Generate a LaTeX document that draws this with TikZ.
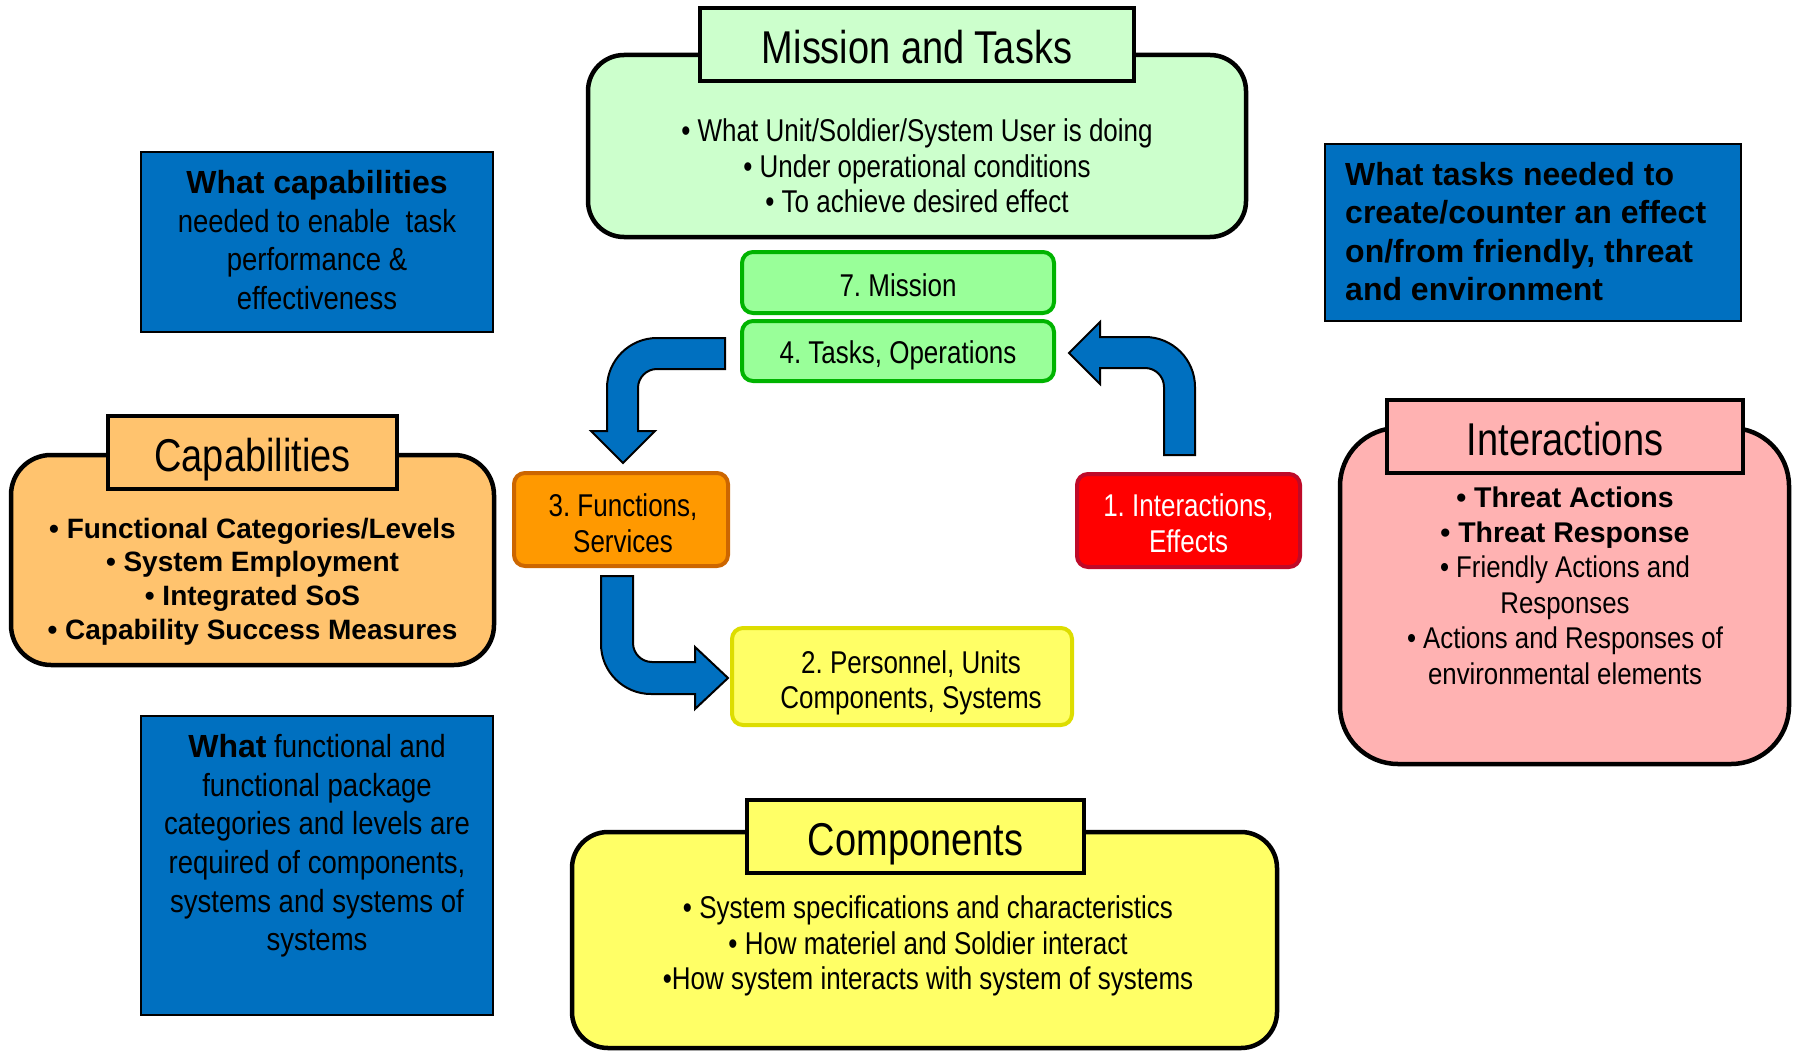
\documentclass[tikz,border=0pt]{standalone}
\usepackage{fontspec}
\setmainfont{Liberation Sans}
\newfontfamily\cond[FakeStretch=0.825]{Liberation Sans}
\newfontfamily\narrowf[FakeStretch=0.86]{Liberation Sans}
\newfontfamily\wide{Liberation Sans}
\definecolor{mgreen}{RGB}{204,255,204}
\definecolor{sgreen}{RGB}{153,255,153}
\definecolor{sgreenb}{RGB}{0,180,0}
\definecolor{forange}{RGB}{255,153,0}
\definecolor{forangeb}{RGB}{204,102,0}
\definecolor{ired}{RGB}{255,0,0}
\definecolor{iredb}{RGB}{190,10,40}
\definecolor{pyellow}{RGB}{255,255,102}
\definecolor{pyellowb}{RGB}{221,221,0}
\definecolor{corange}{RGB}{255,195,110}
\definecolor{ipink}{RGB}{255,178,178}
\definecolor{cblue}{RGB}{0,112,192}
\begin{document}
\frenchspacing
\begin{tikzpicture}[x=1pt,y=-1pt,
  bigbox/.style={draw=black, line width=4.5pt, rounded corners=36pt, inner sep=0pt},
  titlebox/.style={draw=black, line width=4.5pt, inner sep=0pt, text height=38pt, text depth=0pt, font=\cond\fontsize{46}{52}\selectfont},
  smallbox/.style={line width=4pt, rounded corners=11pt, inner sep=0pt},
  bluebox/.style={draw=black, line width=1.5pt, fill=cblue, inner sep=0pt},
  bodytxt/.style={align=center, inner sep=0pt, font=\cond\fontsize{31.5}{35.5}\selectfont},
  boldtxt/.style={align=center, inner sep=0pt, font=\wide\bfseries\fontsize{28}{33.7}\selectfont},
  bluetxt/.style={align=center, inner sep=0pt, font=\narrowf\fontsize{32}{38.6}\selectfont},
  blockarrow/.style={fill=cblue, draw=black, line width=2pt, line join=miter}
]
\useasboundingbox (0,0) rectangle (1796,1051);

% Mission and Tasks
\node[bigbox, fill=mgreen, minimum width=658, minimum height=182] (mission) at (917,146) {};
\node[titlebox, fill=mgreen, minimum width=434, minimum height=73] (missiontitle) at (917,44.5) {Mission and Tasks};
\node[bodytxt] (missiontxt) at (917,166) {• What Unit/Soldier/System User is doing\\ • Under operational conditions\\ • To achieve desired effect};

% small boxes
\node[smallbox, draw=sgreenb, fill=sgreen, minimum width=312, minimum height=61] (m7) at (898,282.5) {};
\node[bodytxt] (m7txt) at (898,285) {7. Mission};
\node[smallbox, draw=sgreenb, fill=sgreen, minimum width=312, minimum height=60] (t4) at (898,351) {};
\node[bodytxt] (t4txt) at (898,355.5) {4. Tasks, Operations};
\node[smallbox, draw=forangeb, fill=forange, minimum width=214, minimum height=93] (f3) at (621,519.5) {};
\node[bodytxt] (f3txt) at (623,523) {3. Functions,\\ Services};
\node[smallbox, draw=iredb, fill=ired, minimum width=223, minimum height=93] (i1) at (1188.5,520.5) {};
\node[bodytxt, text=white] (i1txt) at (1188.5,523) {1. Interactions,\\ Effects};
\node[smallbox, draw=pyellowb, fill=pyellow, minimum width=340, minimum height=97] (p2) at (902,676.5) {};
\node[bodytxt] (p2txt) at (911,683) {2. Personnel, Units\\ Components, Systems};

% block arrows
\draw[blockarrow] (725,338) -- (657,338) .. controls (629.4,338) and (607,360.4) .. (607,388) -- (607,431) -- (591,431) -- (623,463) -- (655,431) -- (638,431) -- (638,388) .. controls (638,377.5) and (646.5,369) .. (657,369) -- (725,369) -- cycle;
\draw[blockarrow] (1164,455) -- (1164,387) .. controls (1164,376.5) and (1155.5,368) .. (1145,368) -- (1100,368) -- (1100,384) -- (1069,353) -- (1100,322) -- (1100,337) -- (1145,337) .. controls (1172.6,337) and (1195,359.4) .. (1195,387) -- (1195,455) -- cycle;
\draw[blockarrow] (601,576) -- (601,644) .. controls (601,671.6) and (623.4,694) .. (651,694) -- (695,694) -- (695,709) -- (728,678) -- (695,647) -- (695,662) -- (652,662) .. controls (641.5,662) and (633,653.5) .. (633,643) -- (633,576) -- cycle;

% Capabilities
\node[bigbox, fill=corange, rounded corners=40pt, minimum width=483, minimum height=210] (cap) at (252.5,560) {};
\node[titlebox, fill=corange, minimum width=289, minimum height=73] (captitle) at (252.5,452.5) {Capabilities};
\node[boldtxt] (captxt) at (252.5,581.5) {• Functional Categories/Levels\\ • System Employment\\ • Integrated SoS\\ • Capability Success Measures};

% Interactions
\node[bigbox, fill=ipink, rounded corners=58pt, minimum width=449, minimum height=336] (inter) at (1564.5,596) {};
\node[titlebox, fill=ipink, minimum width=356, minimum height=73] (intertitle) at (1565,436.5) {Interactions};
\node[align=center, inner sep=0pt, font=\narrowf\fontsize{30}{35.4}\selectfont] (intertxt) at (1565,585.5) {{\wide\bfseries\fontsize{28.5}{35.4}\selectfont • Threat Actions}\\ {\wide\bfseries\fontsize{28.5}{35.4}\selectfont • Threat Response}\\ • Friendly Actions and\\ Responses\\ • Actions and Responses of\\ environmental elements};

% Components
\node[bigbox, fill=pyellow, minimum width=705, minimum height=216] (comp) at (924.5,940) {};
\node[titlebox, fill=pyellow, minimum width=337, minimum height=73] (comptitle) at (915.5,836.5) {Components};
\node[bodytxt] (comptxt) at (928,946) {• System specifications and characteristics\\ • How materiel and Soldier interact\\ •How system interacts with system of systems};

% Blue boxes
\node[bluebox, minimum width=352, minimum height=180] (btl) at (317,242) {};
\node[bluetxt] (btltxt) at (317,240) {{\wide\bfseries What capabilities}\\ needed to enable\ \ task\\ performance \&\\ effectiveness};
\node[bluebox, minimum width=416, minimum height=177] (btr) at (1533,232.5) {};
\node[anchor=west, align=left, inner sep=0pt, font=\wide\bfseries\fontsize{32}{38.4}\selectfont] (btrtxt) at (1345,231.5) {What tasks needed to\\ create/counter an effect\\ on/from friendly, threat\\ and environment};
\node[bluebox, minimum width=352, minimum height=299] (bbl) at (317,865.5) {};
\node[bluetxt] (bbltxt) at (317,846) {{\wide\bfseries What} functional and\\ functional package\\ categories and levels are\\ required of components,\\ systems and systems of\\ systems};
\end{tikzpicture}
\end{document}
